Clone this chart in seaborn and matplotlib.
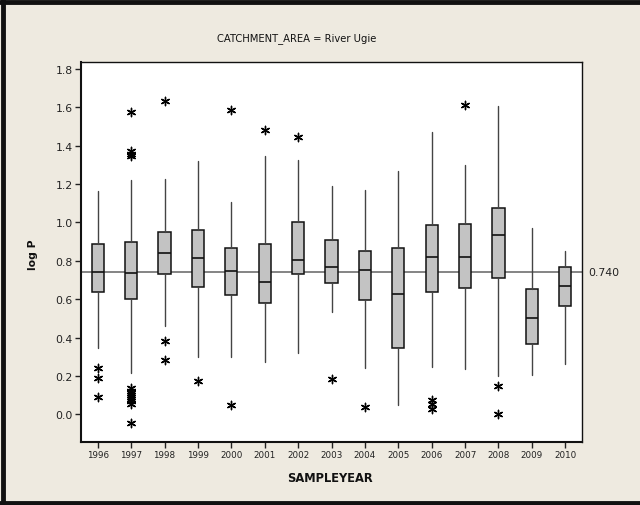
import numpy as np
import pandas as pd
import matplotlib
matplotlib.use("Agg")
import matplotlib.pyplot as plt
import seaborn as sns

years = [str(y) for y in range(1996, 2011)]
whisk_lo = [0.344, 0.215, 0.462, 0.297, 0.297, 0.271, 0.318, 0.531, 0.241, 0.050, 0.248, 0.236, 0.201, 0.206, 0.264]
q1       = [0.636, 0.601, 0.731, 0.662, 0.622, 0.580, 0.731, 0.684, 0.596, 0.345, 0.636, 0.656, 0.709, 0.368, 0.566]
median   = [0.744, 0.738, 0.841, 0.813, 0.745, 0.691, 0.806, 0.766, 0.752, 0.628, 0.821, 0.821, 0.936, 0.503, 0.669]
q3       = [0.889, 0.896, 0.952, 0.962, 0.868, 0.889, 1.004, 0.908, 0.853, 0.868, 0.985, 0.992, 1.075, 0.653, 0.769]
whisk_hi = [1.165, 1.222, 1.226, 1.322, 1.108, 1.348, 1.327, 1.191, 1.171, 1.266, 1.473, 1.299, 1.608, 0.971, 0.853]

out_year = ["1996", "1996", "1996",
            "1997", "1997", "1997", "1997", "1997", "1997", "1997", "1997", "1997", "1997", "1997", "1997", "1997",
            "1998", "1998", "1998",
            "1999",
            "2000", "2000",
            "2001",
            "2002",
            "2003",
            "2004",
            "2006", "2006", "2006",
            "2007",
            "2008", "2008"]
out_val = [0.240, 0.188, 0.092,
           1.574, 1.374, 1.356, 1.345, 0.135, 0.122, 0.110, 0.100, 0.090, 0.080, 0.068, 0.055, -0.045,
           1.634, 0.384, 0.283,
           0.175,
           1.587, 0.048,
           1.483,
           1.443,
           0.184,
           0.036,
           0.075, 0.055, 0.030,
           1.613,
           0.146, 0.003]

ref_value = 0.740
yticks = [0.0, 0.2, 0.4, 0.6, 0.8, 1.0, 1.2, 1.4, 1.6, 1.8]

sns.set_theme(style="white")
plt.rcParams['font.family'] = ['DejaVu Sans']

bg = "#eeeae0"
fig = plt.figure(figsize=(6.4, 5.06), dpi=100, facecolor=bg)
ax = fig.add_axes([81/640, 1 - 443/506, (582-81)/640, (443-63)/506])
ax.set_facecolor("white")

stats = []
for i, y in enumerate(years):
    stats.append(dict(label=y, whislo=whisk_lo[i], q1=q1[i], med=median[i],
                      q3=q3[i], whishi=whisk_hi[i], fliers=[]))

ax.axhline(ref_value, color="#707070", lw=1.2, zorder=1)

ax.bxp(stats, positions=range(len(years)), widths=0.36, showcaps=False,
       patch_artist=True, showfliers=False,
       boxprops=dict(facecolor="#c3c3c3", edgecolor="#111111", linewidth=1.1),
       medianprops=dict(color="#111111", linewidth=1.2),
       whiskerprops=dict(color="#444444", linewidth=1.0),
       zorder=3)

odf = pd.DataFrame({"year": out_year, "val": out_val})
odf["pos"] = odf["year"].map({y: i for i, y in enumerate(years)})
sns.scatterplot(data=odf, x="pos", y="val", ax=ax, marker=(6, 2, 0), s=36,
                color="black", linewidth=1.0, edgecolor="black", zorder=4, legend=False)

ax.set_xlim(-0.5, len(years) - 0.5)
ax.set_ylim(-0.144, 1.836)
ax.set_xticks(range(len(years)))
ax.set_xticklabels(years, fontsize=6.3, color="#222222")
ax.set_yticks(yticks)
ax.set_yticklabels([f"{v:.1f}" for v in yticks], fontsize=7.8, color="#222222")
ax.tick_params(axis="both", direction="out", length=4, width=1, color="#222222", pad=2,
               bottom=True, left=True)
for s in ax.spines.values():
    s.set_color("#111111")
    s.set_linewidth(1.0)
ax.spines["left"].set_linewidth(1.5)
ax.spines["bottom"].set_linewidth(1.5)
ax.set_xlabel("")
ax.set_ylabel("")

ax.text(1.012, ref_value, "0.740", transform=ax.get_yaxis_transform(),
        va="center", ha="left", fontsize=7.8, color="#222222")

fig.text(297/640, 1 - 39/506, "CATCHMENT_AREA = River Ugie", ha="center", va="center",
         fontsize=7.2, color="#111111")
fig.text(330/640, 1 - 479/506, "SAMPLEYEAR", ha="center", va="center",
         fontsize=8.3, fontweight="bold", color="#111111")
fig.text(33/640, 1 - 255/506, "log P", ha="center", va="center", rotation=90,
         fontsize=7.8, fontweight="bold", color="#111111")

# outer frame (top, left, bottom)
fig.add_artist(plt.Line2D([0, 1], [1 - 2.5/506, 1 - 2.5/506], transform=fig.transFigure, color="#111111", lw=3.5))
fig.add_artist(plt.Line2D([2.5/640, 2.5/640], [0, 1], transform=fig.transFigure, color="#111111", lw=3.5))
fig.add_artist(plt.Line2D([0, 1], [2.5/506, 2.5/506], transform=fig.transFigure, color="#111111", lw=3.5))

fig.savefig("out.png", dpi=100, facecolor=bg)
